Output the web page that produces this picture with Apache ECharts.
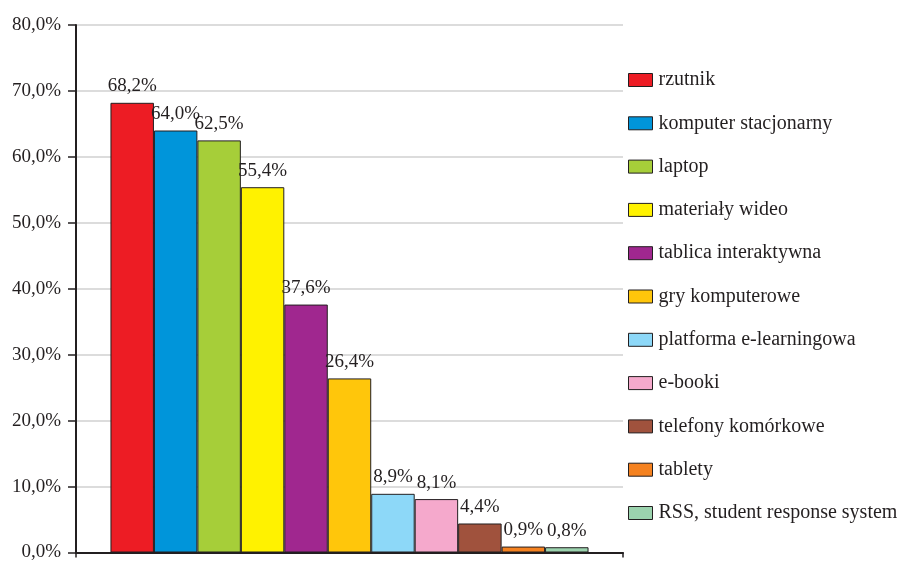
<!DOCTYPE html>
<html>
<head>
<meta charset="utf-8">
<script src="https://cdn.jsdelivr.net/npm/echarts@6/dist/echarts.min.js"></script>
<style>html,body{margin:0;padding:0;background:#fff}#c{width:899px;height:562px}</style>
</head>
<body>
<div id="c"></div>
<script>
var categories = ['rzutnik','komputer stacjonarny','laptop','materiały wideo','tablica interaktywna','gry komputerowe','platforma e-learningowa','e-booki','telefony komórkowe','tablety','RSS, student response system'];
var values = [68.2, 64.0, 62.5, 55.4, 37.6, 26.4, 8.9, 8.1, 4.4, 0.9, 0.8];
var yTicks = [0, 10, 20, 30, 40, 50, 60, 70, 80];
var palette = ['#ED1C24','#0095DA','#A6CE39','#FFF200','#A0278F','#FFC60B','#8DD8F8','#F5A9CC','#A0523D','#F58220','#9BD3AE'];

function pct(v){ return v.toFixed(1).replace('.', ',') + '%'; }
var FONT = 'Liberation Serif';
var series = categories.map(function(name, i){
  return {
    type: 'bar', name: name, data: [values[i]],
    barGap: '0%', barCategoryGap: '12.6%',
    itemStyle: {color: palette[i], borderColor: '#231f20', borderWidth: 1},
    label: {show: true, position: 'top', distance: 7, formatter: function(p){return pct(p.value);},
      color: '#231f20', fontFamily: FONT, fontSize: 19}
  };
});
var chart = echarts.init(document.getElementById('c'));
chart.setOption({
  animation: false,
  grid: {left: 76, right: 276, top: 25, bottom: 5, containLabel: false},
  legend: {
    orient: 'vertical', left: 623, top: 65, itemWidth: 24, itemHeight: 13, itemGap: 23.3,
    icon: 'rect', data: categories,
    itemStyle: {borderColor: '#231f20', borderWidth: 1},
    textStyle: {fontFamily: FONT, fontSize: 20, color: '#231f20', padding: [0,0,0,1]}
  },
  xAxis: {
    type: 'category', data: [''],
    axisLine: {lineStyle: {color: '#231f20', width: 2}},
    axisTick: {show: true, length: 5, lineStyle: {color: '#231f20', width: 1.5}},
    axisLabel: {show: false}
  },
  yAxis: {
    type: 'value', min: yTicks[0], max: yTicks[yTicks.length-1], interval: 10,
    axisLine: {show: true, lineStyle: {color: '#231f20', width: 2}},
    axisTick: {show: true, length: 8, lineStyle: {color: '#231f20', width: 1.5}},
    axisLabel: {formatter: pct, fontFamily: FONT, fontSize: 19, color: '#231f20', margin: 15},
    splitLine: {show: true, lineStyle: {color: '#d0d0d0', width: 1.5}}
  },
  series: series
});
</script>
</body>
</html>
